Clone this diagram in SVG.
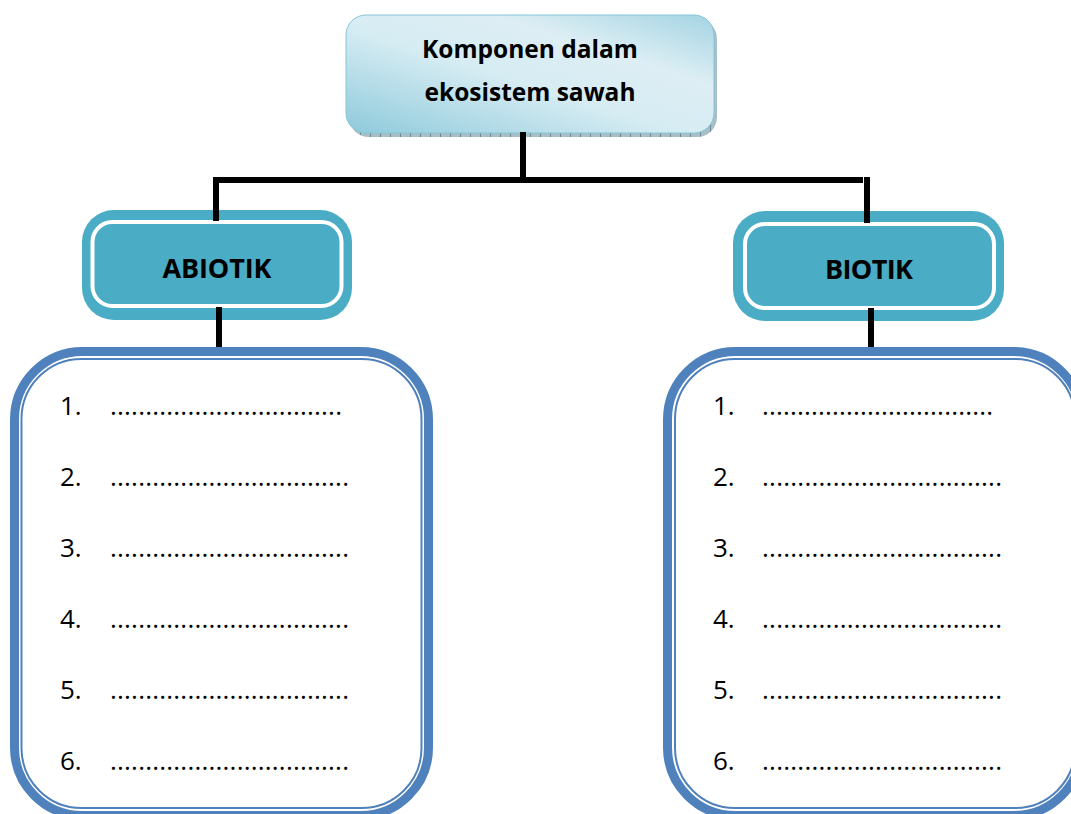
<svg xmlns="http://www.w3.org/2000/svg" width="1071" height="814" viewBox="0 0 1071 814">
<defs>
<linearGradient id="topGrad" x1="0" y1="1" x2="1" y2="0">
<stop offset="0" stop-color="#8ecadb"/>
<stop offset="0.45" stop-color="#d6ecf3"/>
<stop offset="0.7" stop-color="#ddeef4"/>
<stop offset="1" stop-color="#a3d4e3"/>
</linearGradient>
<pattern id="hatch" width="10" height="6" patternUnits="userSpaceOnUse">
<rect width="10" height="6" fill="#a9bfc7"/>
<line x1="0.5" y1="0" x2="0.5" y2="6" stroke="#6d8893" stroke-width="1"/>
</pattern>
</defs>
<style>
.conn{stroke:#000;stroke-width:6;fill:none}
.cat-outer{fill:#4bacc6}
.cat-inner{fill:none;stroke:#fff;stroke-width:4}
.list-outer{fill:#fff;stroke:#4f81bd;stroke-width:9}
.list-inner{fill:none;stroke:#4f81bd;stroke-width:2}
.bold{font-family:"Open Sans","Liberation Sans",sans-serif;font-weight:bold;fill:#000;text-anchor:middle}
.item{font-family:"Open Sans","Liberation Sans",sans-serif;font-size:26px;fill:#000}
</style>
<rect width="1071" height="814" fill="#fff"/>

<g id="node-root">
<rect x="349" y="19" width="368" height="118" rx="20" fill="url(#hatch)"/>
<rect x="346" y="15" width="368" height="118" rx="20" fill="url(#topGrad)" stroke="#86c5d7" stroke-width="1"/>
<text class="bold" x="530" y="58" font-size="24.5">Komponen dalam</text>
<text class="bold" x="530" y="101" font-size="24.5">ekosistem sawah</text>
</g>

<g id="node-abiotik">
<rect class="cat-outer" x="82" y="210" width="270" height="110" rx="32"/>
<rect class="cat-inner" x="92.5" y="222" width="249" height="84" rx="20"/>
<text class="bold" x="217" y="278" font-size="27" textLength="109">ABIOTIK</text>
</g>

<g id="node-biotik">
<rect class="cat-outer" x="733" y="211" width="271" height="110" rx="32"/>
<rect class="cat-inner" x="745" y="224" width="249" height="84" rx="20"/>
<text class="bold" x="869" y="279" font-size="27" textLength="88">BIOTIK</text>
</g>

<g id="node-abiotik-list">
<rect class="list-outer" x="14.5" y="351.5" width="414" height="464" rx="68"/>
<rect class="list-inner" x="21.5" y="359" width="400" height="449" rx="60"/>
<g class="item">
<text x="60" y="415">1.</text><text x="110" y="415" textLength="232">.................................</text>
<text x="60" y="486">2.</text><text x="110" y="486" textLength="239">..................................</text>
<text x="60" y="557">3.</text><text x="110" y="557" textLength="239">..................................</text>
<text x="60" y="628">4.</text><text x="110" y="628" textLength="239">..................................</text>
<text x="60" y="699">5.</text><text x="110" y="699" textLength="239">..................................</text>
<text x="60" y="770">6.</text><text x="110" y="770" textLength="239">..................................</text>
</g>
</g>

<g id="node-biotik-list">
<rect class="list-outer" x="667.5" y="351.5" width="414" height="464" rx="68"/>
<rect class="list-inner" x="675" y="359" width="400" height="449" rx="60"/>
<g class="item">
<text x="713" y="415">1.</text><text x="762" y="415" textLength="231">.................................</text>
<text x="713" y="486">2.</text><text x="762" y="486" textLength="240">..................................</text>
<text x="713" y="557">3.</text><text x="762" y="557" textLength="240">..................................</text>
<text x="713" y="628">4.</text><text x="762" y="628" textLength="240">..................................</text>
<text x="713" y="699">5.</text><text x="762" y="699" textLength="240">..................................</text>
<text x="713" y="770">6.</text><text x="762" y="770" textLength="240">..................................</text>
</g>
</g>

<g id="connectors">
<line class="conn" x1="523" y1="132" x2="523" y2="180"/>
<line class="conn" x1="213" y1="180" x2="863" y2="180"/>
<line class="conn" x1="216" y1="177" x2="216" y2="221"/>
<line class="conn" x1="867" y1="177" x2="867" y2="223"/>
<line class="conn" x1="219" y1="307" x2="219" y2="347"/>
<line class="conn" x1="871" y1="308" x2="871" y2="347"/>
</g>
</svg>
